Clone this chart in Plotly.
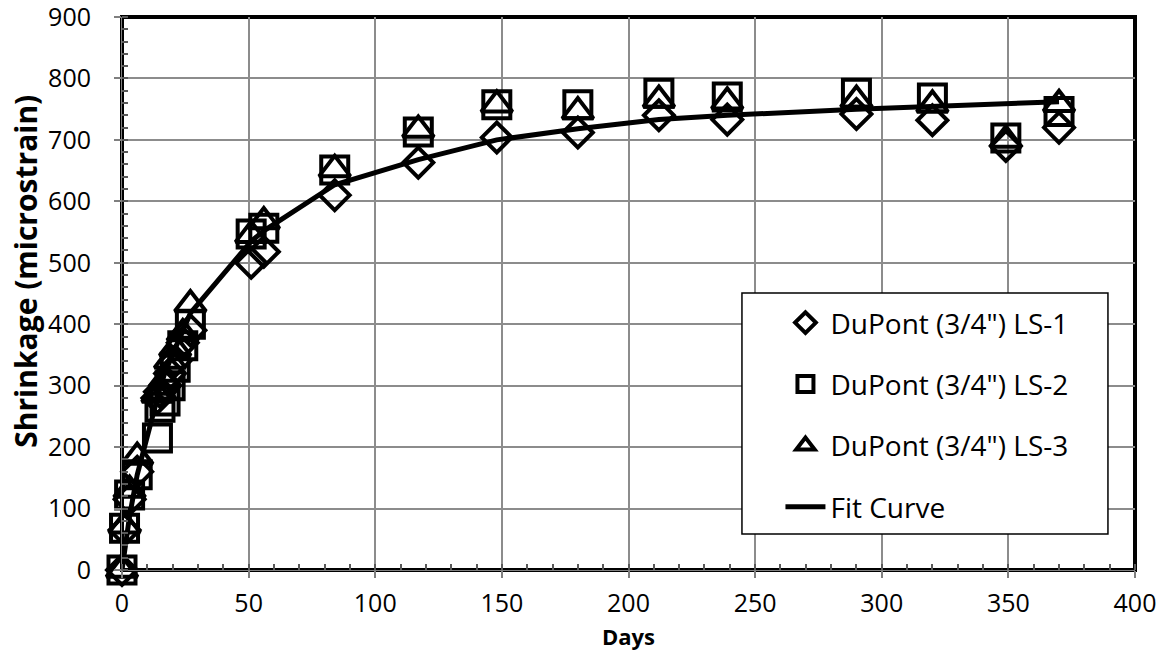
import plotly.graph_objects as go

days = [0, 1, 3, 6, 14, 15, 17, 19, 21, 24, 27, 51, 56, 84, 117, 148, 180, 212, 239, 290, 320, 349, 370]

ls1 = [0, 65, 115, 160, 280, 290, 300, 320, 340, 370, 390, 500, 518, 610, 663, 704, 712, 740, 733, 742, 732, 690, 720]
ls2 = [0, 68, 122, 155, 215, 265, 275, 300, 330, 365, 400, 547, 556, 651, 713, 757, 757, 776, 770, 776, 768, 703, 746]
ls3 = [0, 72, 130, 184, 285, 290, 310, 340, 360, 385, 432, 545, 567, 652, 716, 757, 746, 765, 762, 765, 757, 700, 758]
fit = [0, 32, 88, 155, 285, 296, 322, 342, 362, 390, 418, 535, 552, 627, 668, 700, 718, 733, 740, 750, 755, 759, 762]

names = ['DuPont (3/4") LS-1', 'DuPont (3/4") LS-2', 'DuPont (3/4") LS-3', 'Fit Curve']
x_title = "Days"
y_title = "Shrinkage (microstrain)"

FONT = "Open Sans"

fig = go.Figure()
fig.add_trace(go.Scatter(x=days, y=ls1, mode="markers", name=names[0], legendgroup="a",
                         cliponaxis=False,
                         marker=dict(symbol="diamond-open", size=23, color="black", line=dict(width=4, color="black"))))
fig.add_trace(go.Scatter(x=days, y=ls2, mode="markers", name=names[1], legendgroup="b",
                         cliponaxis=False,
                         marker=dict(symbol="square-open", size=27, color="black", line=dict(width=4, color="black"))))
fig.add_trace(go.Scatter(x=days, y=ls3, mode="markers", name=names[2], legendgroup="c",
                         cliponaxis=False,
                         marker=dict(symbol="triangle-up-open", size=27, color="black", line=dict(width=4, color="black"))))
fig.add_trace(go.Scatter(x=days, y=fit, mode="lines", name=names[3], legendgroup="d",
                         line=dict(color="black", width=5)))

axis_common = dict(
    showgrid=True, gridcolor="#8c8c8c", gridwidth=1.5,
    showline=True, linecolor="#7f7f7f", linewidth=1,
    ticks="outside", ticklen=7, tickcolor="#7f7f7f", tickwidth=1.5,
    zeroline=False, mirror=False, automargin=False,
    ticklabeloverflow="allow",
    tickfont=dict(family=FONT, size=25, color="black"),
)

fig.update_xaxes(range=[0, 400], dtick=50, tick0=0, ticklabelstandoff=4,
                 minor=dict(ticks="inside", dtick=10, ticklen=6, tickcolor="#595959", tickwidth=1.5, showgrid=False),
                 **axis_common)
fig.update_yaxes(range=[0, 900], dtick=100, tick0=0, ticklabelstandoff=18,
                 minor=dict(ticks="inside", dtick=20, ticklen=6, tickcolor="#595959", tickwidth=1.5, showgrid=False),
                 **axis_common)

# axis titles
fig.add_annotation(text="<b>" + x_title + "</b>", xref="paper", yref="paper", x=0.5, y=-0.12,
                   xanchor="center", yanchor="middle", showarrow=False,
                   font=dict(family=FONT, size=22, color="black"))
fig.add_annotation(text="<b>" + y_title + "</b>", xref="paper", yref="paper", x=-0.095, y=0.5407,
                   xanchor="center", yanchor="middle", showarrow=False, textangle=-90,
                   font=dict(family=FONT, size=30, color="black"))

# plot-area border
fig.add_shape(type="rect", xref="paper", yref="paper", x0=0, x1=1, y0=0, y1=1,
              line=dict(color="black", width=4), layer="between")
# legend box
fig.add_shape(type="rect", xref="paper", yref="paper", x0=0.6120, x1=0.9733, y0=0.0651, y1=0.5009,
              line=dict(color="black", width=1.5), fillcolor="white", layer="above")

fig.update_layout(
    width=1167, height=653,
    margin=dict(l=122, r=32, t=17, b=83),
    plot_bgcolor="white", paper_bgcolor="white",
    font=dict(family=FONT, color="black"),
    showlegend=True,
    legend=dict(x=0.65, y=0.492, xanchor="left", yanchor="top",
                bgcolor="rgba(0,0,0,0)", borderwidth=0,
                font=dict(family=FONT, size=28, color="black"),
                traceorder="grouped", tracegroupgap=22, itemwidth=40),
)

fig.write_html("out.html", config={"displayModeBar": False},
               post_script="document.body.style.margin='0';document.body.style.overflow='hidden';")
